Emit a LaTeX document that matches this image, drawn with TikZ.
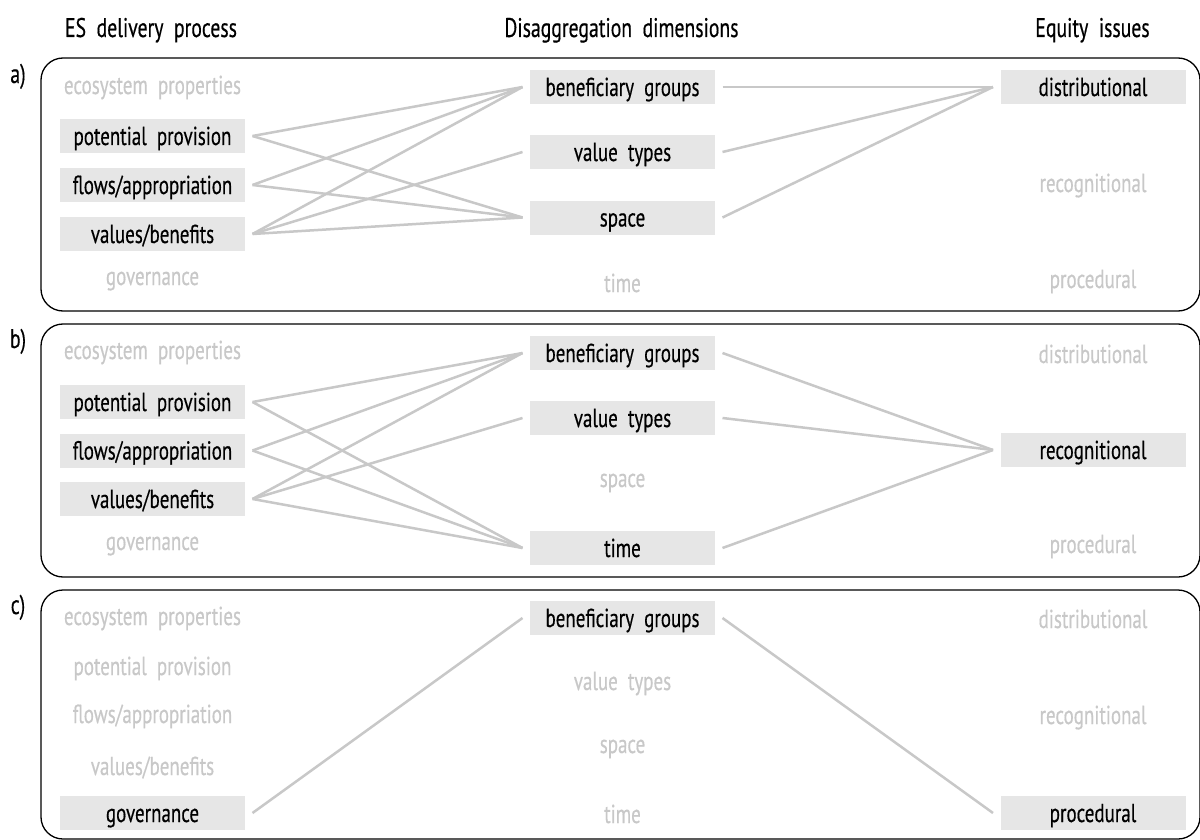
\documentclass[tikz,border=0pt]{standalone}
\usepackage{fontspec}
\setmainfont[FakeStretch=0.73, WordSpace=2, FakeBold=0.4]{PT Sans}
\definecolor{boxgray}{RGB}{230,230,230}
\definecolor{offgray}{RGB}{200,200,200}
\definecolor{linegray}{RGB}{200,200,200}
\tikzset{
  every node/.style={font=\fontsize{26}{30}\selectfont, text height=18pt, text depth=0pt, inner sep=0pt},
  on/.style={fill=boxgray, minimum width=185pt, minimum height=34pt, outer xsep=7.5pt, text=black},
  off/.style={text=offgray},
  hdr/.style={text=black, font=\fontsize{27}{30}\selectfont},
  lbl/.style={text=black, font=\fontsize{27}{30}\selectfont},
  conn/.style={draw=linegray, line width=2.5pt},
  panel/.style={draw=black, line width=1.3pt, rounded corners=22pt},
}
\begin{document}
\begin{tikzpicture}[x=1pt,y=-1pt]
\useasboundingbox (0,0) rectangle (1200,840);
\fill[white] (0,0) rectangle (1200,840);
% headers
\node[hdr] (h1) at (151,28) {ES delivery process};
\node[hdr] (h2) at (621.5,28) {Disaggregation dimensions};
\node[hdr] (h3) at (1092.5,28) {Equity issues};
% panels
\draw[panel] (41,58) rectangle (1200,311);
\draw[panel] (41,324) rectangle (1200,577);
\draw[panel] (41,590) rectangle (1200,839);
\node[lbl] (la) at (18,74) {a)};
\node[lbl] (lb) at (18,339) {b)};
\node[lbl] (lc) at (18,605) {c)};
% ---------- panel a
\node[off] (a1) at (152.5,85) {ecosystem properties};
\node[on]  (a2) at (152.5,136) {potential provision};
\node[on]  (a3) at (152.5,185) {flows/appropriation};
\node[on]  (a4) at (152.5,234) {values/benefits};
\node[off] (a5) at (152.5,276) {governance};
\node[on]  (am1) at (622.5,87) {beneficiary groups};
\node[on]  (am2) at (622.5,152) {value types};
\node[on]  (am3) at (622.5,217.5) {space};
\node[off] (am4) at (622.5,283) {time};
\node[on]  (ar1) at (1093,87) {distributional};
\node[off] (ar2) at (1093,183) {recognitional};
\node[off] (ar3) at (1093,279) {procedural};
\draw[conn] (a2.east) -- (am1.west);
\draw[conn] (a2.east) -- (am3.west);
\draw[conn] (a3.east) -- (am1.west);
\draw[conn] (a3.east) -- (am3.west);
\draw[conn] (a4.east) -- (am1.west);
\draw[conn] (a4.east) -- (am2.west);
\draw[conn] (a4.east) -- (am3.west);
\draw[conn] (am1.east) -- (ar1.west);
\draw[conn] (am2.east) -- (ar1.west);
\draw[conn] (am3.east) -- (ar1.west);
% ---------- panel b
\node[off] (b1) at (152.5,350) {ecosystem properties};
\node[on]  (b2) at (152.5,402) {potential provision};
\node[on]  (b3) at (152.5,450.5) {flows/appropriation};
\node[on]  (b4) at (152.5,499) {values/benefits};
\node[off] (b5) at (152.5,541) {governance};
\node[on]  (bm1) at (622.5,353) {beneficiary groups};
\node[on]  (bm2) at (622.5,418) {value types};
\node[off] (bm3) at (622.5,478) {space};
\node[on]  (bm4) at (622.5,548) {time};
\node[off] (br1) at (1093,354) {distributional};
\node[on]  (br2) at (1093,450) {recognitional};
\node[off] (br3) at (1093,544) {procedural};
\draw[conn] (b2.east) -- (bm1.west);
\draw[conn] (b2.east) -- (bm4.west);
\draw[conn] (b3.east) -- (bm1.west);
\draw[conn] (b3.east) -- (bm4.west);
\draw[conn] (b4.east) -- (bm1.west);
\draw[conn] (b4.east) -- (bm2.west);
\draw[conn] (b4.east) -- (bm4.west);
\draw[conn] (bm1.east) -- (br2.west);
\draw[conn] (bm2.east) -- (br2.west);
\draw[conn] (bm4.east) -- (br2.west);
% ---------- panel c
\node[off] (c1) at (152.5,616) {ecosystem properties};
\node[off] (c2) at (152.5,666) {potential provision};
\node[off] (c3) at (152.5,714) {flows/appropriation};
\node[off] (c4) at (152.5,766) {values/benefits};
\node[on]  (c5) at (152.5,813) {governance};
\node[on]  (cm1) at (622.5,618) {beneficiary groups};
\node[off] (cm2) at (622.5,681) {value types};
\node[off] (cm3) at (622.5,744) {space};
\node[off] (cm4) at (622.5,814) {time};
\node[off] (cr1) at (1093,619) {distributional};
\node[off] (cr2) at (1093,715) {recognitional};
\node[on]  (cr3) at (1093,813) {procedural};
\draw[conn] (c5.east) -- (cm1.west);
\draw[conn] (cm1.east) -- (cr3.west);
\end{tikzpicture}
\end{document}
